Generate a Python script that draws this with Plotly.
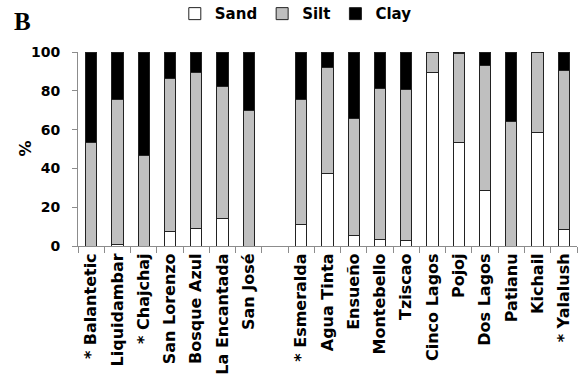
import plotly.graph_objects as go

sites = ["* Balantetic", "Liquidambar", "* Chajchaj", "San Lorenzo", "Bosque Azul",
         "La Encantada", "San José", " ", "* Esmeralda", "Agua Tinta", "Ensueño",
         "Montebello", "Tziscao", "Cinco Lagos", "Pojoj", "Dos Lagos", "Patianu",
         "Kichail", "* Yalalush"]
sand = [0, 1.0, 0, 7.4, 9.1, 14.1, 0, None, 11.2, 37.2, 5.2, 3.4, 2.6, 89.5, 53.5, 28.6, 0, 58.3, 8.3]
silt = [53.4, 74.4, 46.6, 79.0, 80.4, 68.3, 69.9, None, 64.2, 54.9, 60.5, 78.0, 77.9, 10.5, 45.6, 64.5, 64.0, 41.7, 82.1]
clay = [46.6, 24.6, 53.4, 13.6, 10.5, 17.6, 30.1, None, 24.6, 7.9, 34.3, 18.6, 19.5, 0, 0.9, 6.9, 36.0, 0, 9.6]
y_ticks = [0, 20, 40, 60, 80, 100]

FONT = "DejaVu Sans"
line = dict(color="#222222", width=1)

fig = go.Figure()
for name, vals, col in [("Sand", sand, "#ffffff"), ("Silt", silt, "#bfbfbf"), ("Clay", clay, "#000000")]:
    fig.add_trace(go.Bar(x=sites, y=vals, name=name,
                         marker=dict(color=col, line=line)))

fig.update_layout(
    width=580, height=375,
    margin=dict(l=78, r=3, t=52, b=129, autoexpand=False),
    barmode="stack", bargap=0.57,
    plot_bgcolor="white", paper_bgcolor="white",
    font=dict(family=FONT, size=14, color="#000"),
    showlegend=True,
    legend=dict(orientation="h", x=0.51, xref="container", xanchor="center",
                y=0.963, yref="container", yanchor="middle",
                font=dict(family=FONT, size=15, weight="bold"),
                itemwidth=30, tracegroupgap=0, traceorder="normal"),
    xaxis=dict(type="category", categoryorder="array", categoryarray=sites,
               range=[-0.5, len(sites) - 0.5],
               showline=True, linecolor="#8c8c8c", linewidth=1,
               ticks="outside", tickson="boundaries", ticklen=6, tickcolor="#8c8c8c",
               tickangle=-90, automargin=False,
               tickfont=dict(family=FONT, size=16, weight="bold")),
    yaxis=dict(range=[0, 100], tickvals=y_ticks, showgrid=False, zeroline=False,
               showline=True, linecolor="#8c8c8c", linewidth=1,
               ticks="outside", ticklen=5, tickcolor="#8c8c8c", automargin=False,
               ticklabelstandoff=9,
               tickfont=dict(family=FONT, size=14, weight="bold")),
    annotations=[
        dict(text="%", xref="paper", yref="paper", x=-0.107, y=0.5, showarrow=False,
             textangle=-90, xanchor="center", yanchor="middle",
             font=dict(family=FONT, size=16, weight="bold")),
        dict(text="B", xref="paper", yref="paper", x=-0.112, y=1.155, showarrow=False,
             xanchor="center", yanchor="middle",
             font=dict(family="Liberation Serif", size=25, weight="bold")),
    ],
)

fig.write_html("out.html")
